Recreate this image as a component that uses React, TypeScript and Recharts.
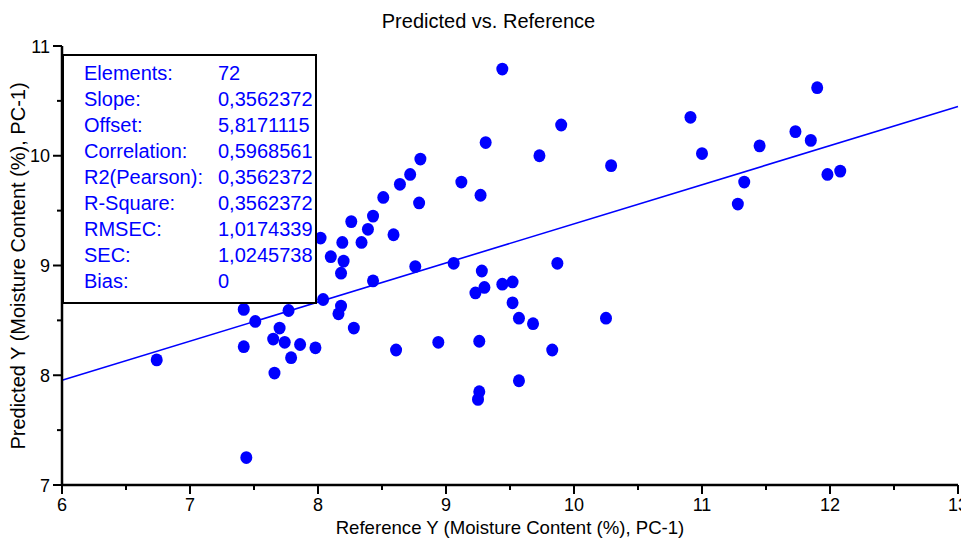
import { ScatterChart, Scatter, XAxis, YAxis, ReferenceLine } from 'recharts';

// reference values (x) and predicted values (y)
const REF_X = [
    6.74, 7.42, 7.42, 7.51, 7.65, 7.70, 7.74, 7.77, 7.79, 7.86, 7.98, 7.66, 7.44,
    8.04, 8.18, 8.16, 8.28, 8.61, 8.94, 8.43, 9.23, 9.26, 9.26, 9.25, 9.44, 9.52,
    9.52, 9.57, 9.68, 10.25, 9.83, 9.57, 9.30, 8.80, 8.72, 8.64, 8.79, 8.51, 9.12,
    8.43, 8.26, 8.39, 8.34, 8.59, 8.19, 8.02, 8.10, 8.20, 8.18, 8.76, 9.06, 9.44,
    9.90, 9.31, 9.73, 10.29, 9.27, 9.28, 9.87, 10.91, 11.0, 11.90, 11.73, 11.85,
    11.45, 11.33, 11.28, 11.98, 12.08,
];
const PRED_Y = [
    8.14, 8.60, 8.26, 8.49, 8.33, 8.43, 8.30, 8.59, 8.16, 8.28, 8.25, 8.02, 7.25,
    8.69, 8.63, 8.56, 8.43, 8.23, 8.30, 8.86, 8.75, 8.31, 7.85, 7.78, 8.83, 8.85,
    8.66, 8.52, 8.47, 8.52, 8.23, 7.95, 8.80, 9.97, 9.83, 9.74, 9.57, 9.62, 9.76,
    9.45, 9.40, 9.33, 9.21, 9.28, 9.21, 9.25, 9.08, 9.04, 8.93, 8.99, 9.02, 10.79,
    10.28, 10.12, 10.00, 9.91, 9.64, 8.95, 9.02, 10.35, 10.02, 10.62, 10.22, 10.14,
    10.09, 9.76, 9.56, 9.83, 9.86,
];

const SLOPE = 0.3562372;
const OFFSET = 5.8171115;

const STAT_LABELS = ['Elements:', 'Slope:', 'Offset:', 'Correlation:', 'R2(Pearson):', 'R-Square:', 'RMSEC:', 'SEC:', 'Bias:'];
const STAT_VALUES = ['72', '0,3562372', '5,8171115', '0,5968561', '0,3562372', '0,3562372', '1,0174339', '1,0245738', '0'];

const X_TICKS = [6, 6.5, 7, 7.5, 8, 8.5, 9, 9.5, 10, 10.5, 11, 11.5, 12, 12.5, 13];
const Y_TICKS = [7, 7.5, 8, 8.5, 9, 9.5, 10, 10.5, 11];

const FONT = '"Liberation Sans", Arial, sans-serif';
const BLUE = '#0000ff';

const data = REF_X.map((x, i) => ({ x, y: PRED_Y[i] }));
const fitLine = [
    { x: 6, y: OFFSET + SLOPE * 6 },
    { x: 13, y: OFFSET + SLOPE * 13 },
];

// eslint-disable-next-line @typescript-eslint/no-explicit-any
const XTick = ({ x, y, payload }: any) => {
    const major = Number.isInteger(payload.value);
    return (
        <g>
            <line x1={x} x2={x} y1={y} y2={y + (major ? 9 : 5)} stroke="#000" strokeWidth={2} />
            {major && (
                <text x={x} y={y + 26} textAnchor="middle" fontSize={18} fontFamily={FONT} fill="#000">
                    {payload.value}
                </text>
            )}
        </g>
    );
};

// eslint-disable-next-line @typescript-eslint/no-explicit-any
const YTick = ({ x, y, payload }: any) => {
    const major = Number.isInteger(payload.value);
    return (
        <g>
            <line x1={x} x2={x - (major ? 9 : 5)} y1={y} y2={y} stroke="#000" strokeWidth={2} />
            {major && (
                <text x={x - 12} y={y + 6.5} textAnchor="end" fontSize={18} fontFamily={FONT} fill="#000">
                    {payload.value}
                </text>
            )}
        </g>
    );
};

// eslint-disable-next-line @typescript-eslint/no-explicit-any
const Dot = ({ cx, cy }: any) => <ellipse cx={cx} cy={cy} rx={6} ry={6.4} fill={BLUE} />;

export default function App() {
    return (
        <div style={{ position: 'absolute', left: 0, top: 0, width: 961, height: 544, background: '#fff', fontFamily: FONT }}>
            <ScatterChart width={961} height={544} margin={{ top: 46, right: 3, bottom: 0, left: 0 }}>
                <XAxis
                    type="number"
                    dataKey="x"
                    domain={[6, 13]}
                    ticks={X_TICKS}
                    interval={0}
                    height={59}
                    tickSize={0}
                    tickMargin={0}
                    tickLine={false}
                    axisLine={{ stroke: '#000', strokeWidth: 2.5 }}
                    tick={<XTick />}
                />
                <YAxis
                    type="number"
                    dataKey="y"
                    domain={[7, 11]}
                    ticks={Y_TICKS}
                    interval={0}
                    width={62}
                    tickSize={0}
                    tickMargin={0}
                    tickLine={false}
                    axisLine={{ stroke: '#000', strokeWidth: 2.5 }}
                    tick={<YTick />}
                />
                <ReferenceLine segment={fitLine} stroke={BLUE} strokeWidth={1.6} />
                <Scatter data={data} shape={<Dot />} isAnimationActive={false} />
            </ScatterChart>

            <div style={{ position: 'absolute', left: 0, width: 961, top: 9, textAlign: 'center', fontSize: 20, lineHeight: '24px', paddingLeft: 16, boxSizing: 'border-box' }}>
                Predicted vs. Reference
            </div>
            <div style={{ position: 'absolute', left: 62, width: 896, top: 516, textAlign: 'center', fontSize: 18.6, lineHeight: '24px' }}>
                Reference Y (Moisture Content (%), PC-1)
            </div>
            <div
                style={{
                    position: 'absolute',
                    left: 18 - 200,
                    top: 266 - 12,
                    width: 400,
                    textAlign: 'center',
                    fontSize: 20,
                    lineHeight: '24px',
                    transform: 'rotate(-90deg)',
                    whiteSpace: 'nowrap',
                }}
            >
                Predicted Y (Moisture Content (%), PC-1)
            </div>

            <div
                style={{
                    position: 'absolute',
                    left: 62,
                    top: 54,
                    width: 255,
                    height: 250,
                    boxSizing: 'border-box',
                    border: '2px solid #000',
                    background: '#fff',
                    color: BLUE,
                    fontSize: 20,
                    lineHeight: '26px',
                    paddingTop: 4,
                    paddingLeft: 20,
                }}
            >
                {STAT_LABELS.map((label, i) => (
                    <div key={label} style={{ display: 'flex', height: 26 }}>
                        <span style={{ width: 134 }}>{label}</span>
                        <span>{STAT_VALUES[i]}</span>
                    </div>
                ))}
            </div>
        </div>
    );
}
